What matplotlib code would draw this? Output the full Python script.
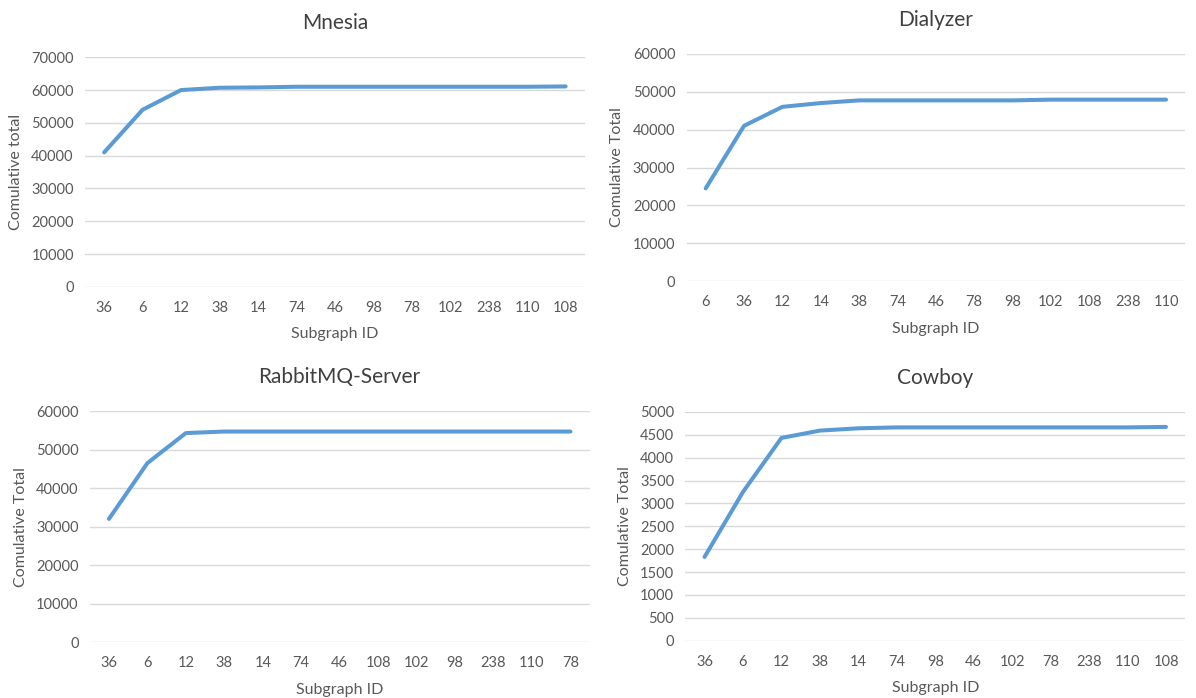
import matplotlib
matplotlib.use("Agg")
import matplotlib.pyplot as plt

plt.rcParams['font.family'] = ['Lato', 'DejaVu Sans']

# data
mnesia_ids = ['36', '6', '12', '38', '14', '74', '46', '98', '78', '102', '238', '110', '108']
mnesia_vals = [41000, 54000, 60000, 60700, 60800, 61000, 61000, 61000, 61000, 61000, 61000, 61000, 61100]

dialyzer_ids = ['6', '36', '12', '14', '38', '74', '46', '78', '98', '102', '108', '238', '110']
dialyzer_vals = [24500, 41000, 46000, 47000, 47700, 47700, 47700, 47700, 47700, 47900, 47900, 47900, 47900]

rabbit_ids = ['36', '6', '12', '38', '14', '74', '46', '108', '102', '98', '238', '110', '78']
rabbit_vals = [32000, 46500, 54300, 54700, 54700, 54700, 54700, 54700, 54700, 54700, 54700, 54700, 54700]

cowboy_ids = ['36', '6', '12', '38', '14', '74', '98', '46', '102', '78', '238', '110', '108']
cowboy_vals = [1830, 3250, 4430, 4590, 4640, 4660, 4660, 4660, 4660, 4660, 4660, 4660, 4670]

line_col = '#5B9BD5'
grid_col = '#D9D9D9'
text_col = '#595959'


def draw(ax, title, ids, vals, ymax, ystep, ylabel):
    x = list(range(len(ids)))
    for v in range(0, ymax + 1, ystep):
        ax.axhline(v, color=grid_col, lw=1, zorder=0)
    ax.plot(x, vals, color=line_col, lw=2.9, solid_capstyle='round', zorder=3)
    ax.set_xlim(-0.5, len(ids) - 0.5)
    ax.set_ylim(0, ymax)
    ax.set_xticks(x)
    ax.set_xticklabels(ids)
    ax.set_yticks(range(0, ymax + 1, ystep))
    ax.tick_params(length=0, labelsize=10.5, colors=text_col, pad=8)
    ax.tick_params(axis='x', pad=10)
    for s in ax.spines.values():
        s.set_visible(False)
    ax.set_title(title, fontsize=15, color='#404040', pad=20)
    ax.set_xlabel('Subgraph ID', fontsize=11.5, color=text_col, labelpad=9)
    ax.set_ylabel(ylabel, fontsize=11.5, color=text_col, labelpad=6)


fig = plt.figure(figsize=(11.96, 6.98), dpi=100)

ax1 = fig.add_axes([0.071, 0.589, 0.418, 0.329])
draw(ax1, 'Mnesia', mnesia_ids, mnesia_vals, 70000, 10000, 'Comulative total')

ax2 = fig.add_axes([0.574, 0.597, 0.417, 0.326])
draw(ax2, 'Dialyzer', dialyzer_ids, dialyzer_vals, 60000, 10000, 'Comulative Total')

ax3 = fig.add_axes([0.075, 0.080, 0.418, 0.331])
draw(ax3, 'RabbitMQ-Server', rabbit_ids, rabbit_vals, 60000, 10000, 'Comulative Total')

ax4 = fig.add_axes([0.573, 0.082, 0.418, 0.328])
draw(ax4, 'Cowboy', cowboy_ids, cowboy_vals, 5000, 500, 'Comulative Total')

fig.savefig('out.png', dpi=100)
